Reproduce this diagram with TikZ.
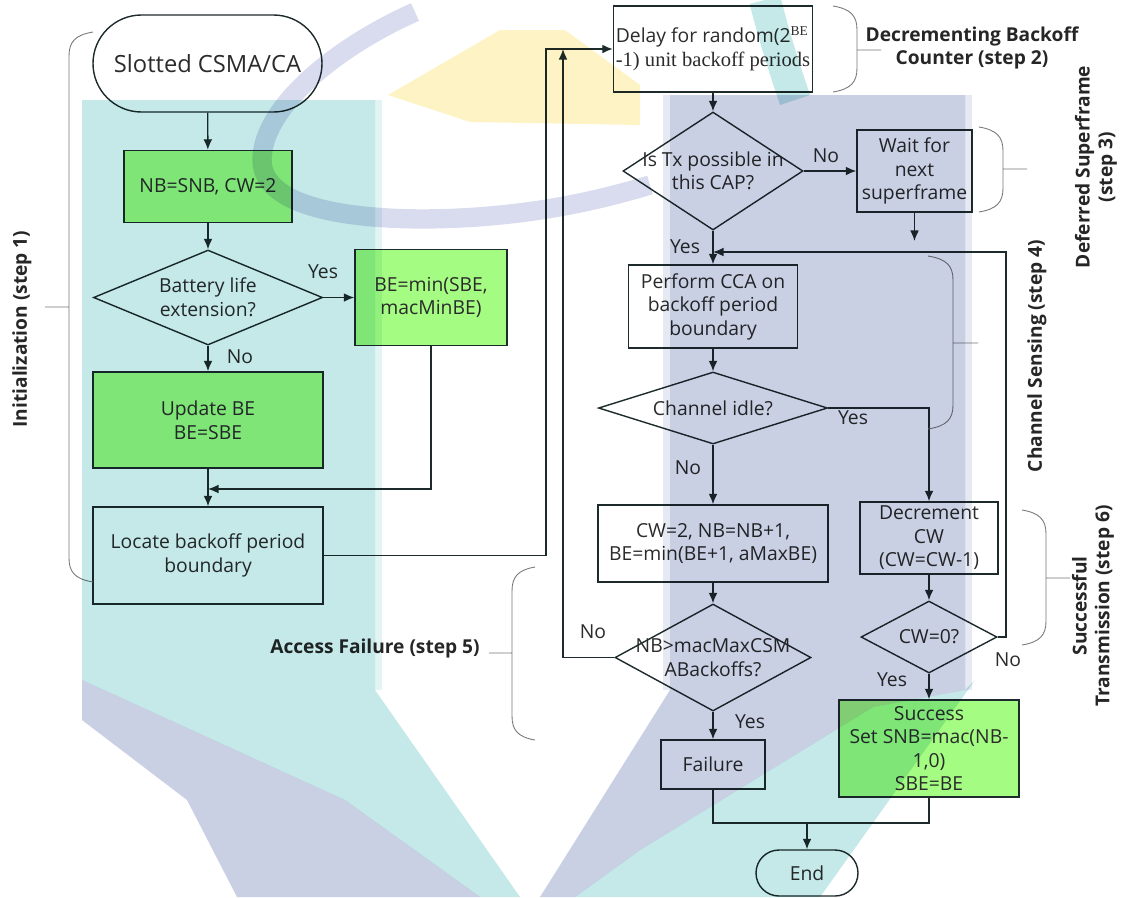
\documentclass[tikz,border=0pt]{standalone}
\usepackage{fontspec}
\setmainfont{Open Sans}
\newfontfamily\serifpart{Liberation Serif}
\usetikzlibrary{shapes.geometric,arrows.meta,positioning}

\definecolor{flowline}{HTML}{1E2B2D}
\definecolor{flowtext}{HTML}{2B2B2B}
\definecolor{bracegray}{HTML}{777777}
\definecolor{boxgreen}{HTML}{A4FC82}
\definecolor{markteal}{HTML}{C5E8E8}
\definecolor{markteallight}{HTML}{E3F4F4}
\definecolor{marklav}{HTML}{CAD0E4}
\definecolor{marklavlight}{HTML}{E6E8F2}
\definecolor{markarc}{HTML}{D8DCEE}
\definecolor{markyellow}{HTML}{FDF3C4}

\newcommand{\nw}[1]{\makebox[0pt]{#1}}

\tikzset{
	px/.style 2 args={minimum width=#1*0.02cm, minimum height=#2*0.02cm},
	box/.style={draw=flowline, line width=0.8pt, text=flowtext, align=center, inner sep=1pt, font=\fontsize{11}{13.4}\selectfont},
	greenbox/.style={box, fill=boxgreen},
	decision/.style={box, diamond, inner sep=0pt},
	terminal/.style={box, rounded corners=0.97cm},
	arr/.style={draw=flowline, line width=0.8pt, -{Latex[length=6pt,width=5pt]}},
	link/.style={draw=flowline, line width=0.8pt},
	brace/.style={draw=bracegray, line width=0.5pt},
	lbl/.style={text=flowtext, inner sep=0pt, font=\fontsize{11}{13}\selectfont},
	steplabel/.style={text=black!85, align=center, inner sep=0pt, font=\bfseries\fontsize{10.9}{13}\selectfont}
}

\begin{document}
\begin{tikzpicture}[x=0.02cm, y=-0.02cm]
	\useasboundingbox (0,0) rectangle (1121,897);

	%nodes
	\node[terminal, px={229}{97}, font=\fontsize{13.5}{16}\selectfont] (start) at (207.5,63.5) {Slotted CSMA/CA};
	\node[greenbox, px={168}{72}] (initnb) at (208,186.5) {NB=SNB, CW=2};
	\node[decision, px={229}{95}] (battery) at (208,297.5) {\nw{Battery life}\\\nw{extension?}};
	\node[greenbox, px={152}{96}] (bemin) at (431,297.5) {BE=min(SBE,\\macMinBE)};
	\node[greenbox, px={230}{96}] (update) at (208,420) {Update BE\\BE=SBE};
	\node[box, px={230}{97}] (locate) at (208,555.5) {Locate backoff period\\boundary};
	\node[box, px={199}{86}, align=left] (delay) at (713,49) {Delay for random(2\textsuperscript{\serifpart BE}\\{\serifpart\fontsize{11.7}{13}\selectfont -1) unit backoff periods}};
	\node[decision, px={180}{118}] (txcap) at (713,171) {\nw{Is Tx possible in}\\\nw{this CAP?}};
	\node[box, px={115}{82}] (wait) at (914.5,171) {Wait for\\next\\superframe};
	\node[box, px={169}{83}] (perform) at (713,306.5) {Perform CCA on\\backoff period\\boundary};
	\node[decision, px={229}{72}] (idle) at (713,408) {\nw{Channel idle?}};
	\node[box, px={230}{77}] (cwnb) at (713,543.5) {CW=2, NB=NB+1,\\BE=min(BE+1, aMaxBE)};
	\node[decision, px={196}{107}] (nbmax) at (713,657.5) {\nw{NB>macMaxCSM}\\\nw{ABackoffs?}};
	\node[box, px={104}{49}] (failure) at (713,764.5) {Failure};
	\node[box, px={138}{72}] (decr) at (929,538) {Decrement\\CW\\(CW=CW-1)};
	\node[decision, px={136}{72}] (cwzero) at (929,637) {\nw{CW=0?}};
	\node[greenbox, px={180}{97}] (success) at (929,748.5) {Success\\Set SNB=mac(NB-\\1,0)\\SBE=BE};
	\node[terminal, px={102}{46}, rounded corners=0.46cm] (finish) at (807,873) {End};

	%junctions
	\coordinate (merge) at (208,489);
	\coordinate (rise) at (546,555.5);
	\coordinate (waitend) at (914.5,241);
	\coordinate (retry) at (563,49);
	\coordinate (loopx) at (1006,637);
	\coordinate (loopin) at (713,252);
	\coordinate (join) at (807,823);

	%paths
	\draw[arr] (start) -- (initnb);
	\draw[arr] (initnb) -- (battery);
	\draw[arr] (battery) -- (bemin);
	\draw[arr] (battery) -- (update);
	\draw[arr] (update) -- (locate);
	\draw[arr] (bemin.south) |- (merge);
	\draw[arr] (locate.east) -- (rise) |- (delay.west);
	\draw[arr] (delay) -- (txcap);
	\draw[arr] (txcap) -- (wait);
	\draw[arr] (wait.south) -- (waitend);
	\draw[arr] (txcap) -- (perform);
	\draw[arr] (perform) -- (idle);
	\draw[arr] (idle.east) -| (decr.north);
	\draw[arr] (idle) -- (cwnb);
	\draw[arr] (cwnb) -- (nbmax);
	\draw[arr] (nbmax.west) -| (retry);
	\draw[arr] (nbmax) -- (failure);
	\draw[arr] (decr) -- (cwzero);
	\draw[arr] (cwzero.east) -- (loopx) |- (loopin);
	\draw[arr] (cwzero) -- (success);
	\draw[link] (failure.south) |- (join) -| (success.south);
	\draw[arr] (join) -- (finish);

	%answers
	\foreach \x/\y/\t [count=\i] in {323/272/Yes, 240/357/No, 826/156/No, 685/247/Yes, 853/418/Yes,
		688/468/No, 593/632/No, 750/722/Yes, 1008/660/No, 892/680/Yes}
		\node[lbl] (ans\i) at (\x,\y) {\t};

	%braces
	\foreach \x/\ya/\yb/\ym/\d in {833/6/92/50/24, 979/127/212/169/24, 928/256/429/343/25,
		1022/510/645/578/24, 93/32/582/307/-24, 535/567/740/653/-23}
		\draw[brace] (\x,\ya) .. controls ({\x+0.75*\d},{\ya+3}) and ({\x+\d},{\ya+10}) .. ({\x+\d},{\ya+24})
			-- ({\x+\d},{\yb-24}) .. controls ({\x+\d},{\yb-10}) and ({\x+0.75*\d},{\yb-3}) .. (\x,\yb)
			({\x+\d},\ym) -- ({\x+2*\d},\ym);

	%step labels
	\node[steplabel, rotate=90] (init) at (22,329) {Initialization (step 1)};
	\node[steplabel] (decrement) at (972,48) {Decrementing Backoff\\Counter (step 2)};
	\node[steplabel, rotate=90] (deferred) at (1096,167) {Deferred Superframe\\(step 3)};
	\node[steplabel, rotate=90] (sensing) at (1037,356) {Channel Sensing (step 4)};
	\node[steplabel, rotate=90] (transmit) at (1093,606) {Successful\\Transmission (step 6)};
	\node[steplabel] (access) at (375,649) {Access Failure (step 5)};

	%watermark
	\begin{scope}[blend mode=multiply]
		\fill[markteal] (82,100) -- (375,100) -- (375,690) -- (520,897) -- (480,897) -- (345,800) -- (82,680) -- cycle;
		\fill[markteallight] (375,100) rectangle (382,690);
		\fill[marklav] (82,680) -- (345,800) -- (480,897) -- (237,897) -- (187,800) -- (82,720) -- cycle;
		\fill[marklav] (670,95) -- (965,95) -- (965,690) -- (873,707) -- (640,850) -- (575,897) -- (540,897) -- (670,690) -- cycle;
		\fill[marklavlight] (663,95) rectangle (670,690);
		\fill[marklavlight] (965,95) rectangle (972,690);
		\fill[markteal] (965,690) -- (975,680) -- (820,897) -- (575,897) -- (640,850) -- (873,707) -- cycle;
		\fill[markyellow] (500,30) -- (565,30) -- (640,85) -- (640,125) -- (470,122) -- (388,95) -- cycle;
		\draw[markarc, line width=11pt] (415,12) .. controls (330,50) and (262,110) .. (262,160)
			.. controls (262,215) and (380,222) .. (460,218) .. controls (540,214) and (600,200) .. (650,185);
		\draw[markteal, line width=18pt] (765,0) .. controls (775,40) and (785,70) .. (795,100);
	\end{scope}

\end{tikzpicture}
\end{document}
